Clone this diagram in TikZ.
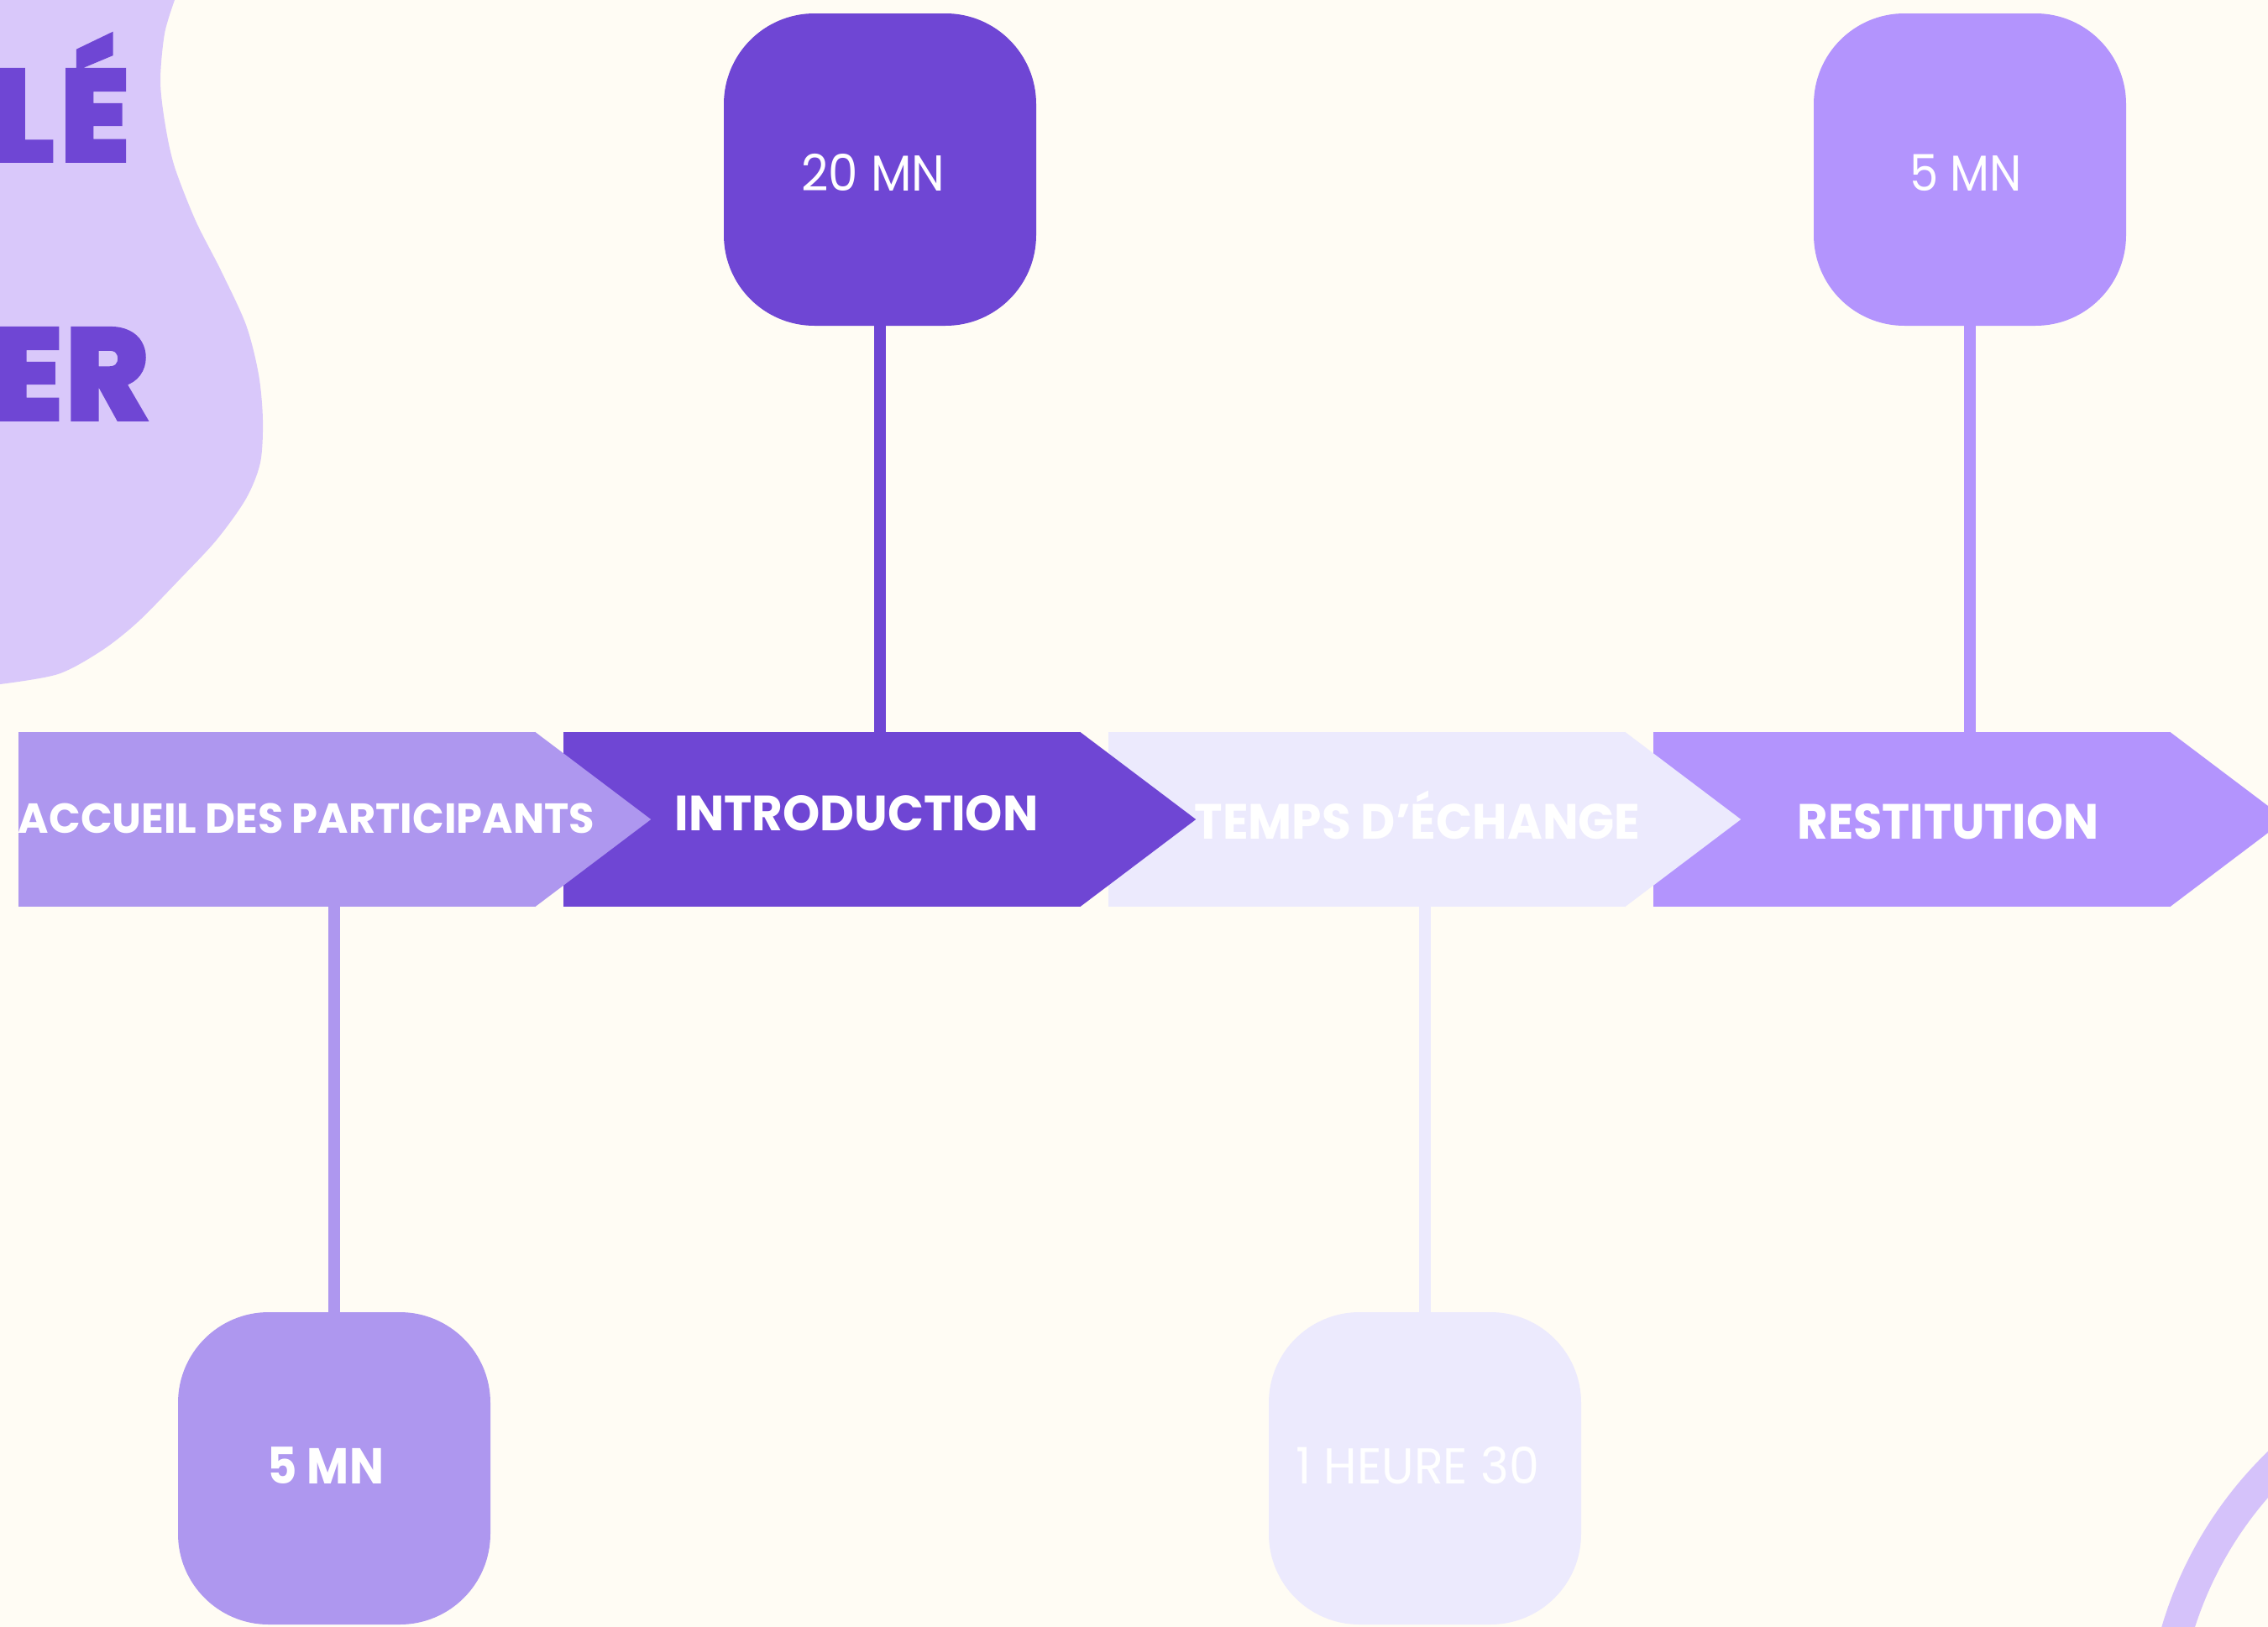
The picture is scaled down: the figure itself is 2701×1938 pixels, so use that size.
\documentclass[tikz,border=0pt]{standalone}
\usepackage{fontspec}
\usepackage{graphicx}
\setmainfont{Poppins}
\newfontfamily\titlefont{Poppins}[BoldFeatures={FakeBold=5}]
\definecolor{bg}{HTML}{FFFCF4}
\definecolor{blob}{HTML}{D9C8FA}
\definecolor{ringc}{HTML}{D5C2FA}
\definecolor{dark}{HTML}{6F46D4}
\definecolor{lilac}{HTML}{AE97EF}
\definecolor{pale}{HTML}{ECEAFD}
\definecolor{lav}{HTML}{B394FD}
\tikzset{
  tbox/.style={rectangle, rounded corners=108pt, minimum width=372pt, minimum height=372pt, inner sep=0pt},
  abody/.style={rectangle, minimum width=615pt, minimum height=208pt, inner sep=0pt},
  conn/.style={line width=14pt},
  lbl/.style={text=white, inner sep=0pt, anchor=base, font=\fontsize{59}{59}\selectfont\bfseries},
  dur/.style={text=white, inner sep=0pt, anchor=base, font=\fontsize{60}{60}\selectfont},
  durb/.style={text=white, inner sep=0pt, anchor=base, font=\fontsize{60}{60}\selectfont\bfseries},
  ttl/.style={text=dark, inner sep=0pt, anchor=base east, font=\fontsize{150}{150}\titlefont\bfseries}
}
\begin{document}
\begin{tikzpicture}[x=1pt,y=-1pt]
\useasboundingbox (0,0) rectangle (2701,1938);
\clip (0,0) rectangle (2701,1938);
\fill[bg] (0,0) rectangle (2701,1938);
% blob
\fill[blob] (0,0) -- plot[smooth] coordinates {(208,0) (196,40) (191,97) (197,150) (208,199) (233,263) (263,322) (293,387) (308,446) (313,500) (310,551) (293,594) (258,643) (215,689) (164,741) (121,775) (69,803) (0,815)} -- cycle;
\node[ttl] (title1) at (154,190) {UL\kern10ptÉ};
\node[ttl] (title2) at (177,498) {IE\kern5ptR};
% ring
\draw[ringc, line width=38pt] (3034,2073) circle[radius=460pt];
% arrow bodies
\node[abody, fill=lav] (a4) at (2276.5,976) {};
\fill[lav] (a4.north east) -- ([xshift=138pt]a4.east) -- (a4.south east) -- cycle;
\node[abody, fill=pale] (a3) at (1627.5,976) {};
\fill[pale] (a3.north east) -- ([xshift=138pt]a3.east) -- (a3.south east) -- cycle;
\node[abody, fill=dark] (a2) at (978.5,976) {};
\fill[dark] (a2.north east) -- ([xshift=138pt]a2.east) -- (a2.south east) -- cycle;
\node[abody, fill=lilac] (a1) at (329.5,976) {};
\fill[lilac] (a1.north east) -- ([xshift=138pt]a1.east) -- (a1.south east) -- cycle;
% boxes
\node[tbox, fill=dark] (b1) at (1048,202) {};
\node[tbox, fill=lav] (b2) at (2346,202) {};
\node[tbox, fill=lilac] (b3) at (398,1749) {};
\node[tbox, fill=pale] (b4) at (1697,1749) {};
% connectors
\draw[conn, dark] (b1.south) -- (b1.south |- a2.north);
\draw[conn, lav] (b2.south) -- (b2.south |- a4.north);
\draw[conn, lilac] (b3.north) -- (b3.north |- a1.south);
\draw[conn, pale] (b4.north) -- (b4.north |- a3.south);
% arrow labels
\node[lbl, font=\fontsize{50}{50}\selectfont\bfseries] (t1) at (365,992) {\resizebox{686pt}{\height}{ACCUEIL DES PARTICIPANTS}};
\node[lbl] (t2) at (1020,989) {\resizebox{433pt}{\height}{INTRODUCTION}};
\node[lbl] (t3) at (1688,999) {\resizebox{531pt}{\height}{TEMPS D’ÉCHANGE}};
\node[lbl] (t4) at (2320,999) {\resizebox{359pt}{\height}{RESTITUTION}};
% durations
\node[dur] (d1) at (1040,227) {\resizebox{171pt}{\height}{20 MN}};
\node[dur] (d2) at (2341,227) {\resizebox{134pt}{\height}{5 MN}};
\node[durb] (d3) at (388,1767) {\resizebox{138pt}{\height}{5 MN}};
\node[dur] (d4) at (1688,1767) {\resizebox{290pt}{\height}{1 HEURE 30}};
\end{tikzpicture}
\end{document}
